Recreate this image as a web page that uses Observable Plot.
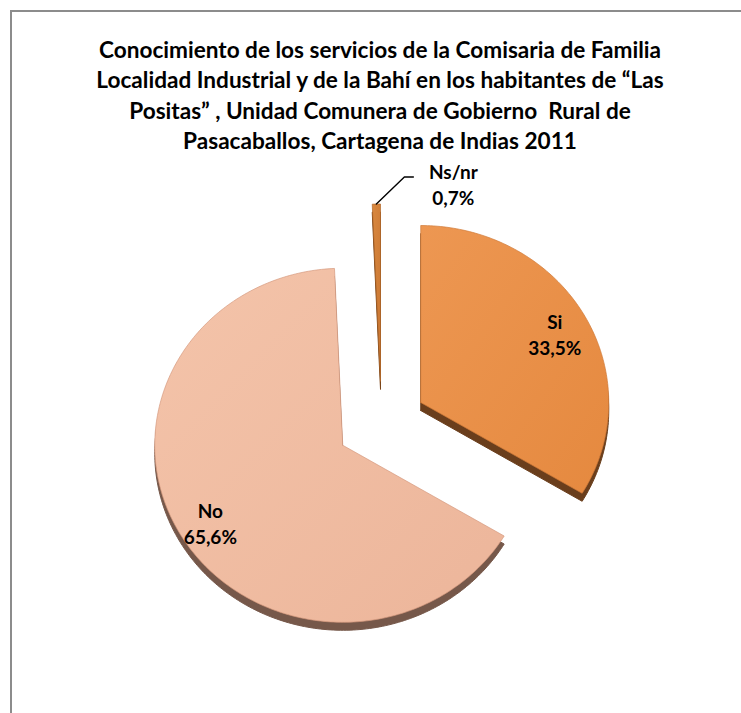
<!DOCTYPE html>
<html>
<head>
<meta charset="utf-8">
<script src="https://cdn.jsdelivr.net/npm/d3@7"></script>
<script src="https://cdn.jsdelivr.net/npm/@observablehq/plot@0.6"></script>
<style>
  html, body { margin: 0; padding: 0; background: #fff; }
  body { width: 741px; height: 713px; position: relative; overflow: hidden; font-family: Lato, "Open Sans", sans-serif; }
  #frame { position: absolute; left: 10px; top: 10px; width: 760px; height: 720px;
           border-top: 2px solid #8c8c8c; border-left: 2px solid #8c8c8c; box-sizing: border-box; }
  #chart { position: absolute; left: 0; top: 0; }
  #title { position: absolute; left: 0; top: 35px; width: 760px; text-align: center;
           font-family: Lato, "Open Sans", sans-serif; font-weight: bold; font-size: 22.6px;
           line-height: 30.3px; color: #000; }
  #title div { white-space: pre; }
</style>
</head>
<body>
<div id="frame"></div>
<div id="chart"></div>
<div id="title"></div>
<script>
// ---- data ----
const titleLines = [
  "Conocimiento de los servicios de la Comisaria de Familia",
  "Localidad Industrial y de la Bahí en los habitantes de “Las",
  "Positas” , Unidad Comunera de Gobierno  Rural de",
  "Pasacaballos, Cartagena de Indias 2011"
];
const categories = ["Si", "No", "Ns/nr"];
const values = [33.5, 65.6, 0.7];
const valueLabels = ["33,5%", "65,6%", "0,7%"];

// ---- styles ----
const topColors  = [["#ED9752", "#E5893F"], ["#F4C4AA", "#ECB59A"], ["#D9883F", "#C97632"]];
const edgeColors = ["#D07A38", "#D69A7E", "#B0672A"];
const sideColors = ["#6A3E1C", "#76584A", "#7A4418"];

const titleEl = document.getElementById("title");
titleLines.forEach(t => { const d = document.createElement("div"); d.textContent = t; titleEl.appendChild(d); });

const W = 741, H = 713;
const G = { cx: 381, cy: 423, rx: 188, ry: 177, explode: 0.24, depth: 8, labelR: 0.82 };

const data = categories.map((c, i) => ({ category: c, value: values[i], label: valueLabels[i], i }));
const arcs = d3.pie().sort(null).value(d => d.value)(data);

function pt(a, r, o) { return { x: o.x + G.rx * r * Math.sin(a), y: o.y - G.ry * r * Math.cos(a) }; }

const slices = arcs.map(p => {
  const mid = (p.startAngle + p.endAngle) / 2;
  const o = { x: G.cx + G.rx * G.explode * Math.sin(mid), y: G.cy - G.ry * G.explode * Math.cos(mid) };
  const n = Math.max(3, Math.ceil((p.endAngle - p.startAngle) / (Math.PI / 180)));
  const pts = [{ ...o }];
  for (let k = 0; k <= n; k++) pts.push(pt(p.startAngle + (p.endAngle - p.startAngle) * k / n, 1, o));
  pts.push({ ...o });
  const side = pts.map(q => ({ x: q.x, y: q.y + G.depth }));
  return { d: p.data, mid, o, pts, side };
});

const marks = [];
slices.forEach(s => {
  marks.push(Plot.line(s.side, { x: "x", y: "y", fill: sideColors[s.d.i], stroke: sideColors[s.d.i], strokeWidth: 1, curve: "linear" }));
});
slices.forEach(s => {
  marks.push(Plot.line(s.pts, { x: "x", y: "y", fill: `url(#grad${s.d.i})`, stroke: edgeColors[s.d.i], strokeWidth: 0.7, curve: "linear" }));
});

// inside labels for large slices, outside label with leader for the tiny one
const inside = slices.filter(s => s.d.value > 5).map(s => {
  const p = pt(s.mid, G.labelR, s.o);
  return { x: p.x, y: p.y + 3, text: s.d.category + "\n" + s.d.label };
});
const outside = slices.filter(s => s.d.value <= 5);
const leaders = [];
const outLabels = [];
outside.forEach(s => {
  const tip = pt(s.mid, 1, s.o);
  const knee = { x: tip.x + 28, y: tip.y - 27 };
  const end = { x: knee.x + 9, y: knee.y };
  leaders.push(tip, knee, end);
  outLabels.push({ x: end.x + 40, y: end.y + 7, text: s.d.category + "\n" + s.d.label });
});

marks.push(Plot.line(leaders, { x: "x", y: "y", stroke: "#000", strokeWidth: 1.4 }));
const textOpts = { x: "x", y: "y", text: "text", fontFamily: "Lato, 'Open Sans', sans-serif", fontWeight: "bold", fontSize: 19, lineHeight: 1.35, fill: "#000", textAnchor: "middle" };
marks.push(Plot.text(inside, textOpts));
marks.push(Plot.text(outLabels, textOpts));

const svg = Plot.plot({
  width: W, height: H,
  margin: 0,
  x: { type: "linear", domain: [0, W], range: [0, W], axis: null },
  y: { type: "linear", domain: [0, H], range: [0, H], axis: null },
  style: { background: "transparent", overflow: "visible" },
  marks
});

const defs = document.createElementNS("http://www.w3.org/2000/svg", "defs");
defs.innerHTML = topColors.map((c, i) =>
  `<linearGradient id="grad${i}" x1="0" y1="0" x2="1" y2="1"><stop offset="0" stop-color="${c[0]}"/><stop offset="1" stop-color="${c[1]}"/></linearGradient>`
).join("");
svg.insertBefore(defs, svg.firstChild);
document.getElementById("chart").appendChild(svg);
</script>
</body>
</html>
